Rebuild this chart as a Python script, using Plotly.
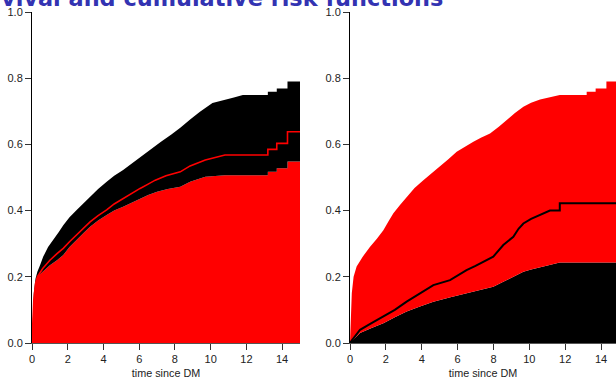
import plotly.graph_objects as go
from plotly.subplots import make_subplots

# ---- Left panel: red lower band, black upper band, red estimate line
left_lo_x = [0, 0.05, 0.1, 0.2, 0.3, 0.6, 1.0, 1.4, 1.75, 2.1, 2.5, 2.9, 3.25, 3.7, 4.18, 4.6, 5.1, 5.6, 6.05, 6.5, 7.0, 7.6, 8.3, 8.85, 9.7, 10.8, 13.2, 13.2, 13.7, 13.7, 14.3, 14.3, 15]
left_lo_y = [0, 0.08, 0.13, 0.18, 0.2, 0.215, 0.235, 0.25, 0.266, 0.29, 0.313, 0.333, 0.351, 0.37, 0.387, 0.4, 0.412, 0.425, 0.437, 0.447, 0.457, 0.465, 0.472, 0.487, 0.502, 0.507, 0.507, 0.517, 0.517, 0.528, 0.528, 0.548, 0.548]

left_hi_x = [0, 0.05, 0.1, 0.2, 0.3, 0.45, 0.63, 0.9, 1.19, 1.5, 1.75, 2.1, 2.5, 2.9, 3.25, 3.7, 4.18, 4.6, 5.1, 5.6, 6.05, 6.6, 7.2, 7.8, 8.3, 8.85, 9.4, 10.1, 10.8, 11.3, 11.8, 13.2, 13.2, 13.7, 13.7, 14.3, 14.3, 15]
left_hi_y = [0, 0.1, 0.15, 0.195, 0.215, 0.235, 0.261, 0.29, 0.311, 0.335, 0.356, 0.38, 0.402, 0.423, 0.442, 0.465, 0.487, 0.505, 0.523, 0.543, 0.563, 0.585, 0.607, 0.63, 0.65, 0.675, 0.699, 0.725, 0.736, 0.742, 0.749, 0.749, 0.759, 0.759, 0.769, 0.769, 0.79, 0.79]

left_mid_x = [0, 0.05, 0.1, 0.2, 0.3, 0.6, 1.0, 1.4, 1.75, 2.1, 2.5, 2.9, 3.25, 3.7, 4.18, 4.6, 5.1, 5.6, 6.05, 6.5, 6.9, 7.5, 8.3, 8.85, 9.7, 10.8, 13.2, 13.2, 13.7, 13.7, 14.3, 14.3, 15]
left_mid_y = [0, 0.08, 0.13, 0.18, 0.2, 0.225, 0.25, 0.27, 0.286, 0.306, 0.326, 0.346, 0.366, 0.385, 0.402, 0.42, 0.437, 0.452, 0.467, 0.48, 0.492, 0.505, 0.517, 0.535, 0.553, 0.568, 0.568, 0.585, 0.585, 0.603, 0.603, 0.638, 0.638]

# ---- Right panel: black lower band, red upper band, black estimate line
right_lo_x = [0, 0.56, 1.2, 1.86, 2.5, 3.16, 3.9, 4.65, 5.6, 6.5, 7.3, 7.99, 8.55, 9.11, 9.67, 10.1, 10.6, 11.15, 11.7, 15]
right_lo_y = [0, 0.03, 0.045, 0.06, 0.078, 0.095, 0.11, 0.125, 0.138, 0.15, 0.16, 0.17, 0.185, 0.2, 0.215, 0.222, 0.229, 0.235, 0.243, 0.243]

right_hi_x = [0, 0.05, 0.1, 0.2, 0.37, 0.7, 1.12, 1.5, 1.86, 2.15, 2.42, 2.8, 3.16, 3.6, 4.09, 4.55, 5.02, 5.5, 5.95, 6.4, 6.88, 7.3, 7.81, 8.3, 8.74, 9.2, 9.67, 10.1, 10.6, 11.7, 13.2, 13.2, 13.7, 13.7, 14.3, 14.3, 15]
right_hi_y = [0, 0.1, 0.15, 0.2, 0.231, 0.26, 0.291, 0.315, 0.341, 0.368, 0.392, 0.418, 0.442, 0.468, 0.492, 0.512, 0.533, 0.556, 0.578, 0.593, 0.608, 0.62, 0.633, 0.653, 0.674, 0.695, 0.714, 0.726, 0.736, 0.749, 0.749, 0.759, 0.759, 0.769, 0.769, 0.79, 0.79]

right_mid_x = [0, 0.56, 1.2, 1.86, 2.5, 3.16, 3.9, 4.65, 5.58, 6.5, 7.0, 7.43, 7.99, 8.55, 9.11, 9.4, 9.67, 10.1, 10.6, 11.15, 11.7, 11.7, 15]
right_mid_y = [0, 0.04, 0.06, 0.08, 0.1, 0.125, 0.15, 0.175, 0.19, 0.22, 0.233, 0.245, 0.261, 0.296, 0.321, 0.345, 0.361, 0.375, 0.387, 0.4, 0.4, 0.422, 0.422]

x_ticks = [0, 2, 4, 6, 8, 10, 12, 14]
y_ticks = [0.0, 0.2, 0.4, 0.6, 0.8, 1.0]
x_title = "time since DM"
title_text = "Survival and cumulative risk functions"

W, H = 616, 380
fig = make_subplots(rows=1, cols=2)

RED = "#FF0000"
BLK = "#000000"

# left panel
fig.add_trace(go.Scatter(x=left_lo_x, y=left_lo_y, mode="lines", line=dict(width=0, color=RED),
                         fill="tozeroy", fillcolor=RED, hoverinfo="skip"), row=1, col=1)
fig.add_trace(go.Scatter(x=left_hi_x, y=left_hi_y, mode="lines", line=dict(width=0, color=BLK),
                         fill="tonexty", fillcolor=BLK, hoverinfo="skip"), row=1, col=1)
fig.add_trace(go.Scatter(x=left_mid_x, y=left_mid_y, mode="lines", line=dict(width=1.6, color=RED),
                         hoverinfo="skip"), row=1, col=1)

# right panel
fig.add_trace(go.Scatter(x=right_lo_x, y=right_lo_y, mode="lines", line=dict(width=0, color=BLK),
                         fill="tozeroy", fillcolor=BLK, hoverinfo="skip"), row=1, col=2)
fig.add_trace(go.Scatter(x=right_hi_x, y=right_hi_y, mode="lines", line=dict(width=0, color=RED),
                         fill="tonexty", fillcolor=RED, hoverinfo="skip"), row=1, col=2)
fig.add_trace(go.Scatter(x=right_mid_x, y=right_mid_y, mode="lines", line=dict(width=2, color=BLK),
                         hoverinfo="skip"), row=1, col=2)

tickfont = dict(family="Liberation Sans, Arial, sans-serif", size=11, color="#222")
axis_common = dict(showgrid=False, zeroline=False, ticks="outside", ticklen=6, tickwidth=1,
                   tickcolor="#333", tickfont=tickfont, showline=True, linewidth=1, automargin=False)

L_plot = (32, 300)
R_plot = (350, 616)
fig.update_xaxes(**axis_common, linecolor="#555", tickvals=x_ticks, ticktext=[str(t) for t in x_ticks],
                 title=dict(text=x_title, font=dict(family="Liberation Sans, Arial, sans-serif", size=10.8, color="#222"), standoff=5))
fig.update_xaxes(range=[0, 15], domain=[L_plot[0] / W, L_plot[1] / W], row=1, col=1)
fig.update_xaxes(range=[0, (R_plot[1] - R_plot[0]) / 17.93], domain=[R_plot[0] / W, 1], row=1, col=2)
fig.update_yaxes(**axis_common, linecolor="#000", range=[0, 1], tickvals=y_ticks, ticktext=["%.1f" % v for v in y_ticks])

fig.add_annotation(text="<b>" + title_text + "</b>", xref="paper", yref="paper", x=-44 / W, y=1,
                   xanchor="left", yanchor="bottom", showarrow=False, yshift=-1,
                   font=dict(family="DejaVu Sans, sans-serif", size=22.4, color="#3333B2"))

fig.update_layout(width=W, height=H, margin=dict(l=0, r=0, t=12, b=37),
                  paper_bgcolor="white", plot_bgcolor="white", showlegend=False)

fig.write_html("out.html", config={"displayModeBar": False},
               post_script="document.body.style.margin='0';document.body.style.overflow='hidden';")
